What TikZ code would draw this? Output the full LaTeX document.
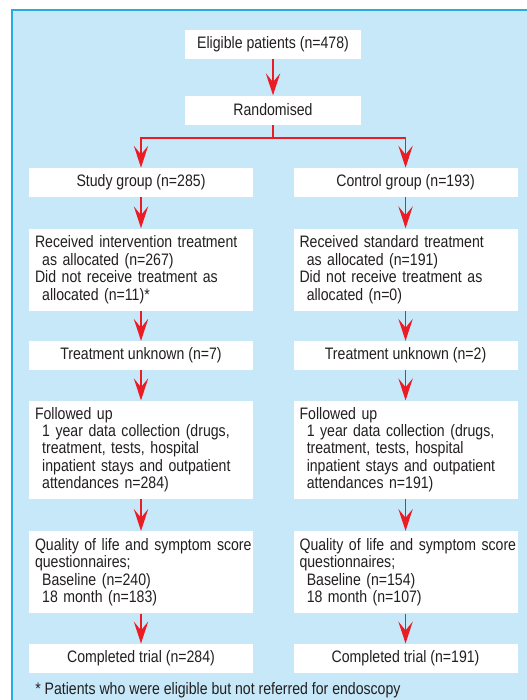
\documentclass[tikz,border=0pt]{standalone}
\usepackage{fontspec}
\setmainfont{Liberation Sans}[FakeStretch=0.85]
\usetikzlibrary{arrows.meta,positioning,calc}

\definecolor{panelblue}{HTML}{C6E8F8}
\definecolor{edgeblue}{HTML}{29ABE2}
\definecolor{flowred}{HTML}{EC1C24}
\definecolor{ink}{HTML}{231F20}

\newcommand{\ind}{\hspace*{1.8mm}}

\begin{document}
\begin{tikzpicture}[
  line/.style={-{Stealth[length=5.5mm,width=3.6mm,inset=2.2mm]}, draw=flowred, line width=1pt},
  fork/.style={draw=flowred, line width=1pt},
  box/.style={fill=white, align=center, inner sep=0pt, minimum width=5.6cm,
              minimum height=7.25mm, font=\fontsize{11.8}{12.4}\selectfont, text=ink},
  topbox/.style={box, minimum width=4.4cm},
  wbox/.style={box, align=left, text width=5.3cm, inner xsep=1.5mm, inner ysep=0pt},
  note/.style={font=\fontsize{11.8}{12.4}\selectfont, text=ink, inner sep=0pt, anchor=west}
]
\useasboundingbox (0,0) rectangle (13.175,-17.5);

% ---------------------------------------------------------------------------
% Panel
% ---------------------------------------------------------------------------
\fill[panelblue] (0.3,-0.25) rectangle (13.175,-17.5);
\draw[edgeblue, line width=1pt] (0.3,-17.5) -- (0.3,-0.25) -- (13.175,-0.25);

% ---------------------------------------------------------------------------
% Top: eligibility and randomisation
% ---------------------------------------------------------------------------
\node[topbox] (elig) at (6.825,-1.1125) {Eligible patients (n=478)};
\node[topbox, below=9mm of elig] (rand) {Randomised};

% ---------------------------------------------------------------------------
% Study arm (left)
% ---------------------------------------------------------------------------
\node[box, minimum height=7.2mm] (study) at (3.525,-4.56) {Study group (n=285)};
\node[wbox, below=7.8mm of study, minimum height=20.5mm] (recL) {Received intervention treatment\\
  \ind as allocated (n=267)\\
  Did not receive treatment as\\
  \ind allocated (n=11)*};
\node[box, below=7.5mm of recL] (unkL) {Treatment unknown (n=7)};
\node[wbox, below=7.5mm of unkL, minimum height=24.5mm] (fupL) {Followed up\\
  \ind 1 year data collection (drugs,\\
  \ind treatment, tests, hospital\\
  \ind inpatient stays and outpatient\\
  \ind attendances n=284)};
\node[wbox, below=8mm of fupL, minimum height=20.5mm] (qolL) {\mbox{Quality of life and symptom score}\\
  questionnaires;\\
  \ind Baseline (n=240)\\
  \ind 18 month (n=183)};
\node[box, below=7.5mm of qolL] (doneL) {Completed trial (n=284)};

% ---------------------------------------------------------------------------
% Control arm (right)
% ---------------------------------------------------------------------------
\node[box, minimum height=7.2mm, right=10mm of study] (ctrl) {Control group (n=193)};
\node[wbox, below=7.8mm of ctrl, minimum height=20.5mm] (recR) {Received standard treatment\\
  \ind as allocated (n=191)\\
  Did not receive treatment as\\
  \ind allocated (n=0)};
\node[box, below=7.5mm of recR] (unkR) {Treatment unknown (n=2)};
\node[wbox, below=7.5mm of unkR, minimum height=24.5mm] (fupR) {Followed up\\
  \ind 1 year data collection (drugs,\\
  \ind treatment, tests, hospital\\
  \ind inpatient stays and outpatient\\
  \ind attendances n=191)};
\node[wbox, below=8mm of fupR, minimum height=20.5mm] (qolR) {\mbox{Quality of life and symptom score}\\
  questionnaires;\\
  \ind Baseline (n=154)\\
  \ind 18 month (n=107)};
\node[box, below=7.5mm of qolR] (doneR) {Completed trial (n=191)};

% Footnote
\node[note] (foot) at (0.875,-17.26) {* Patients who were eligible but not referred for endoscopy};

% ---------------------------------------------------------------------------
% Arrows
% ---------------------------------------------------------------------------
\draw[line] (elig) -- (rand);
\coordinate (split) at ($(rand.south)+(0,-0.325)$);
\draw[fork] (rand.south) -- (split);
\draw[line] (split) -| (study.north);
\draw[line] (split) -| (ctrl.north);

\draw[line] (study) -- (recL);
\draw[line] (recL) -- (unkL);
\draw[line] (unkL) -- (fupL);
\draw[line] (fupL) -- (qolL);
\draw[line] (qolL) -- (doneL);

\draw[line] (ctrl) -- (recR);
\draw[line] (recR) -- (unkR);
\draw[line] (unkR) -- (fupR);
\draw[line] (fupR) -- (qolR);
\draw[line] (qolR) -- (doneR);

\end{tikzpicture}
\end{document}
